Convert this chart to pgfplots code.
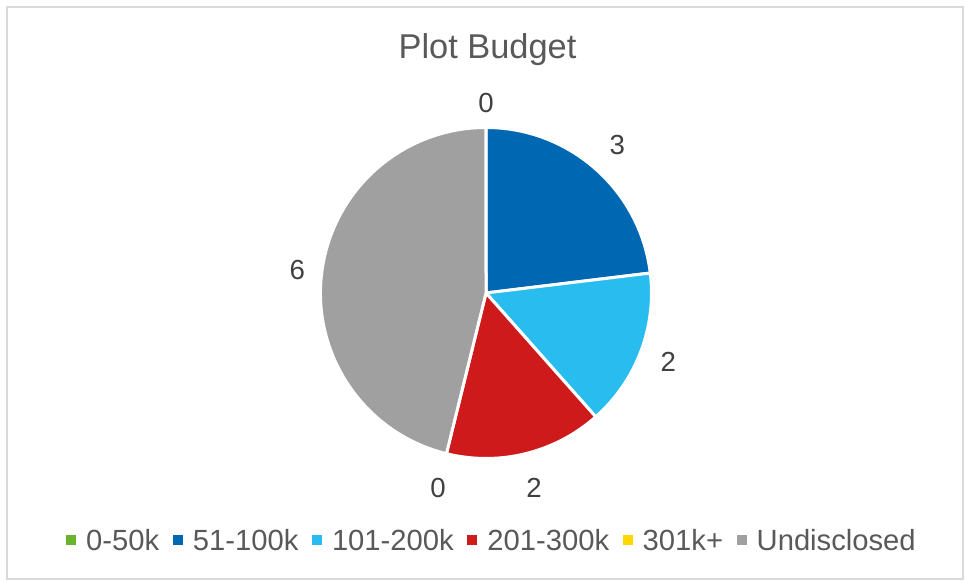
\documentclass[border=0pt]{standalone}
\usepackage{fontspec}
\setmainfont{Liberation Sans}
\usepackage{pgfplots}
\usepackage{pgfplotstable}
\pgfplotsset{compat=1.18}
\definecolor{cA}{HTML}{6AB42D}
\definecolor{cB}{HTML}{0067B2}
\definecolor{cC}{HTML}{29BDEF}
\definecolor{cD}{HTML}{CF1A1B}
\definecolor{cE}{HTML}{FFD800}
\definecolor{cF}{HTML}{A0A0A0}
\definecolor{txt}{HTML}{595959}
\definecolor{lab}{HTML}{404040}
\definecolor{frame}{HTML}{D9D9D9}

% label, count, colour, label distance from centre (px)
\pgfplotstableread{
label value col dist
0-50k 0 cA 190
51-100k 3 cB 198
101-200k 2 cC 195
201-300k 2 cD 201
301k+ 0 cE 201
Undisclosed 6 cF 190
}\piedata

\begin{document}
\begin{tikzpicture}
\begin{axis}[
  scale only axis,
  width=482.5pt, height=290.5pt,
  xmin=0, xmax=965, ymin=0, ymax=581,
  axis lines=none,
  clip=false,
  legend columns=-1,
  legend cell align=left,
  legend image code/.code={\fill[#1, draw=none] (0pt,-2pt) rectangle (5pt,3pt);},
  legend style={draw=none, fill=none, at={(axis cs:493,40)}, anchor=center,
    font=\fontsize{14.6}{17}\selectfont, text=txt,
    /tikz/every odd column/.append style={column sep=3pt},
    /tikz/every even column/.append style={column sep=4.8pt}},
]
% page extent
\path (axis cs:0,0) rectangle (axis cs:965,581);
% chart frame
\draw[frame, line width=1pt] (axis cs:7,574) rectangle (axis cs:963,1.5);
% title
\node[font=\fontsize{17.2}{20}\selectfont, text=txt, anchor=base] at (axis cs:487.5,522) {Plot Budget};

% total
\pgfplotstablegetrowsof{\piedata}
\pgfmathtruncatemacro\nrows{\pgfplotsretval-1}
\def\total{0}
\pgfplotsforeachungrouped \i in {0,...,\nrows} {
  \pgfplotstablegetelem{\i}{value}\of\piedata
  \pgfmathsetmacro\total{\total+\pgfplotsretval}
}
\def\start{90}
\pgfplotsforeachungrouped \i in {0,...,\nrows} {
  \pgfplotstablegetelem{\i}{value}\of\piedata \let\v\pgfplotsretval
  \pgfplotstablegetelem{\i}{col}\of\piedata \let\c\pgfplotsretval
  \pgfplotstablegetelem{\i}{dist}\of\piedata \let\d\pgfplotsretval
  \pgfplotstablegetelem{\i}{label}\of\piedata \let\l\pgfplotsretval
  \pgfmathsetmacro\sweep{\v/\total*360}
  \pgfmathsetmacro\endang{\start-\sweep}
  \pgfmathsetmacro\mid{\start-\sweep/2}
  \pgfmathsetmacro\dd{\d*0.5}
  \ifdim\v pt>0pt
    \edef\temp{\noexpand\filldraw[fill=\c, draw=white, line width=1.5pt, line join=round]
      (axis cs:486,288) -- ++(\start:82.75pt)
      arc[start angle=\start, end angle=\endang, radius=82.75pt] -- cycle;}
    \temp
  \fi
  \edef\temp{\noexpand\node[text=lab, font=\noexpand\fontsize{13.8}{16}\noexpand\selectfont, inner sep=0pt]
    at ([shift={(\mid:\dd pt)}]axis cs:486,288) {\v};}
  \temp
  \edef\temp{\noexpand\addlegendimage{fill=\c}\noexpand\addlegendentry{\l}}
  \temp
  \global\let\start\endang
}
\end{axis}
\end{tikzpicture}
\end{document}
